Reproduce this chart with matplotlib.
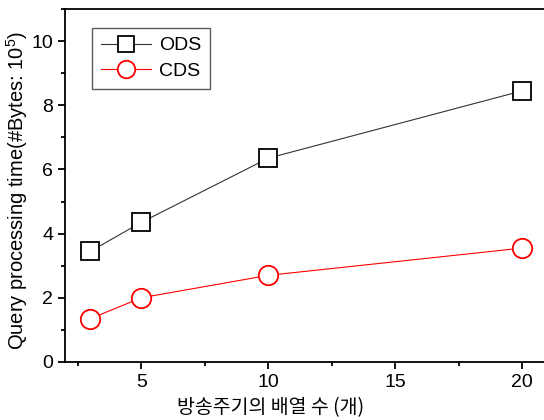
import matplotlib
matplotlib.use('Agg')
import matplotlib.pyplot as plt
from matplotlib.ticker import MultipleLocator

plt.rcParams['font.family'] = ['Liberation Sans', 'Noto Sans CJK KR', 'DejaVu Sans']
plt.rcParams['mathtext.default'] = 'regular'

# data
sizes = [3, 5, 10, 20]
ods = [3.45, 4.35, 6.35, 8.45]
cds = [1.35, 2.0, 2.7, 3.55]

fig = plt.figure(figsize=(5.44, 4.2), dpi=100)
# right spine sits off the canvas, as in the reference
ax = fig.add_axes([65 / 544, 58 / 420, 508 / 544, 353 / 420])

ax.plot(sizes, ods, color='#333333', lw=0.8, marker='s', ms=12.5,
        mfc='white', mec='black', mew=1.3, label='ODS')
ax.plot(sizes, cds, color='red', lw=0.8, marker='o', ms=14,
        mfc='white', mec='red', mew=1.3, label='CDS')

ax.set_xlim(2, 22)
ax.set_ylim(0, 11)
ax.xaxis.set_major_locator(MultipleLocator(5))
ax.xaxis.set_minor_locator(MultipleLocator(2.5))
ax.yaxis.set_major_locator(MultipleLocator(2))
ax.yaxis.set_minor_locator(MultipleLocator(1))
ax.tick_params(which='both', direction='out', width=1.3, labelsize=14)
ax.tick_params(which='major', length=5)
ax.tick_params(which='minor', length=3)
for s in ax.spines.values():
    s.set_linewidth(1.3)

ax.set_ylabel('Query processing time(#Bytes: 10$^5$)', fontsize=14.5)
ax.yaxis.set_label_coords(-35 / 508, 0.485)
ax.set_xlabel('방송주기의 배열 수 (개)', fontsize=14,
              family=['Noto Sans CJK KR', 'DejaVu Sans'])
ax.xaxis.set_label_coords(206 / 508, -35 / 353)

leg = ax.legend(loc='upper left', bbox_to_anchor=(27 / 508, 1 - 19 / 353),
                borderaxespad=0, fontsize=14, frameon=True, fancybox=False,
                edgecolor='#333333', handlelength=2.6, borderpad=0.45,
                labelspacing=0.4, handletextpad=0.4, markerscale=0.9)
leg.get_frame().set_linewidth(1.0)

fig.savefig('out.png', dpi=100)
